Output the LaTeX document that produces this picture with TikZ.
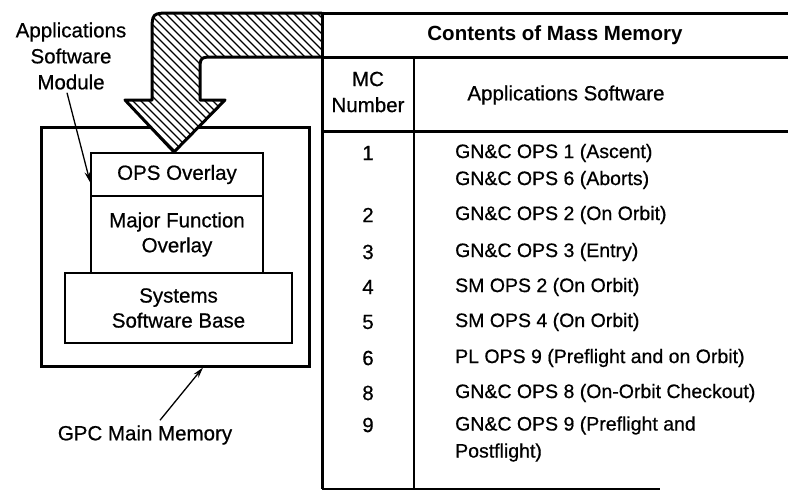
\documentclass[tikz,border=0pt]{standalone}
\usepackage{fontspec}
\setmainfont{Liberation Sans}[UprightFeatures={FakeBold=0.6}, BoldFeatures={FakeBold=0}]
\usetikzlibrary{arrows.meta}
\tikzset{
  txt/.style={font=\fontsize{20.5}{26}\selectfont, inner sep=0pt, align=center},
  ltxt/.style={font=\fontsize{19.5}{27}\selectfont, inner sep=0pt, align=left, anchor=west},
  membox/.style={draw, line width=3pt, inner sep=0pt},
  layerbox/.style={draw, line width=1.6pt, inner sep=0pt, font=\fontsize{20.5}{25}\selectfont, align=center},
  thickrule/.style={line width=3pt},
  thinrule/.style={line width=1.6pt},
  ptr/.style={line width=1.3pt, -{Stealth[length=11pt,width=6pt]}},
  bigarrow/.style={line width=3pt, line join=round},
  hatch/.style={line width=1.3pt}
}
\begin{document}
\begin{tikzpicture}[x=1pt,y=-1pt]
\useasboundingbox (0,0) rectangle (788,490);

% GPC main memory box
\node[membox, minimum width=268pt, minimum height=239pt] (main) at (175,246.5) {};

% big hatched arrow
\def\arrowpath{(322,13) -- (172,13) .. controls (152,13) .. (152,33) -- (152,100) -- (125,100) -- (174,152) -- (225,100) -- (200,100) -- (200,72) .. controls (200,57) .. (215,57) -- (322,57) -- cycle}
\fill[white] \arrowpath;
\begin{scope}
  \clip \arrowpath;
  \foreach \k in {-48,-40,...,330} {
    \draw[hatch] (\k,0) -- ++(170,170);
  }
\end{scope}
\draw[bigarrow] (322,13) -- (172,13) .. controls (152,13) .. (152,33) -- (152,100) -- (125,100) -- (174,152) -- (225,100) -- (200,100) -- (200,72) .. controls (200,57) .. (215,57) -- (322,57);

% layers
\node[layerbox, minimum width=172pt, minimum height=43pt] (ops) at (177,174.5) {OPS Overlay};
\node[layerbox, minimum width=172pt, minimum height=77pt] (major) at (177,234.5) {Major Function\\Overlay};
\node[layerbox, minimum width=227pt, minimum height=70pt] (sys) at (178.5,308) {Systems\\Software Base};

% labels
\node[txt] (asm) at (71,56) {Applications\\Software\\Module};
\node[txt] (gpc) at (145,435) {GPC Main Memory};
\draw[ptr] ([xshift=-4pt,yshift=-3pt]asm.south) -- ([yshift=-8pt]ops.west);
\draw[ptr] ([xshift=15pt,yshift=5pt]gpc.north) -- ([xshift=28pt]main.south);

% table rules
\draw[thickrule] (322,13) -- (788,13);
\draw[thickrule] (322,57) -- (788,57);
\draw[thickrule] (322,131) -- (788,131);
\draw[thickrule] (322,11.5) -- (322,489);
\draw[line width=2pt] (322,489) -- (660,489);
\draw[thinrule] (414,57) -- (414,489);

% table header
\node[txt, font=\fontsize{20.5}{26}\selectfont\bfseries] (title) at (555,35) {Contents of Mass Memory};
\node[txt] (mch) at (368,92) {MC\\Number};
\node[txt] (ash) at (566,95) {Applications Software};

% table rows
\node[txt] (n1) at (368,153) {1};
\node[txt] (n2) at (368,215) {2};
\node[txt] (n3) at (368,252) {3};
\node[txt] (n4) at (368,287) {4};
\node[txt] (n5) at (368,322) {5};
\node[txt] (n6) at (368,358) {6};
\node[txt] (n8) at (368,393) {8};
\node[txt] (n9) at (368,425) {9};

\node[ltxt] (s1) at (455,166.5) {GN\&C OPS 1 (Ascent)\\GN\&C OPS 6 (Aborts)};
\node[ltxt] (s2) at (455,215) {GN\&C OPS 2 (On Orbit)};
\node[ltxt] (s3) at (455,252) {GN\&C OPS 3 (Entry)};
\node[ltxt] (s4) at (455,287) {SM OPS 2 (On Orbit)};
\node[ltxt] (s5) at (455,322) {SM OPS 4 (On Orbit)};
\node[ltxt] (s6) at (455,358) {PL OPS 9 (Preflight and on Orbit)};
\node[ltxt] (s8) at (455,393) {GN\&C OPS 8 (On-Orbit Checkout)};
\node[ltxt] (s9) at (455,439) {GN\&C OPS 9 (Preflight and\\Postflight)};
\end{tikzpicture}
\end{document}
